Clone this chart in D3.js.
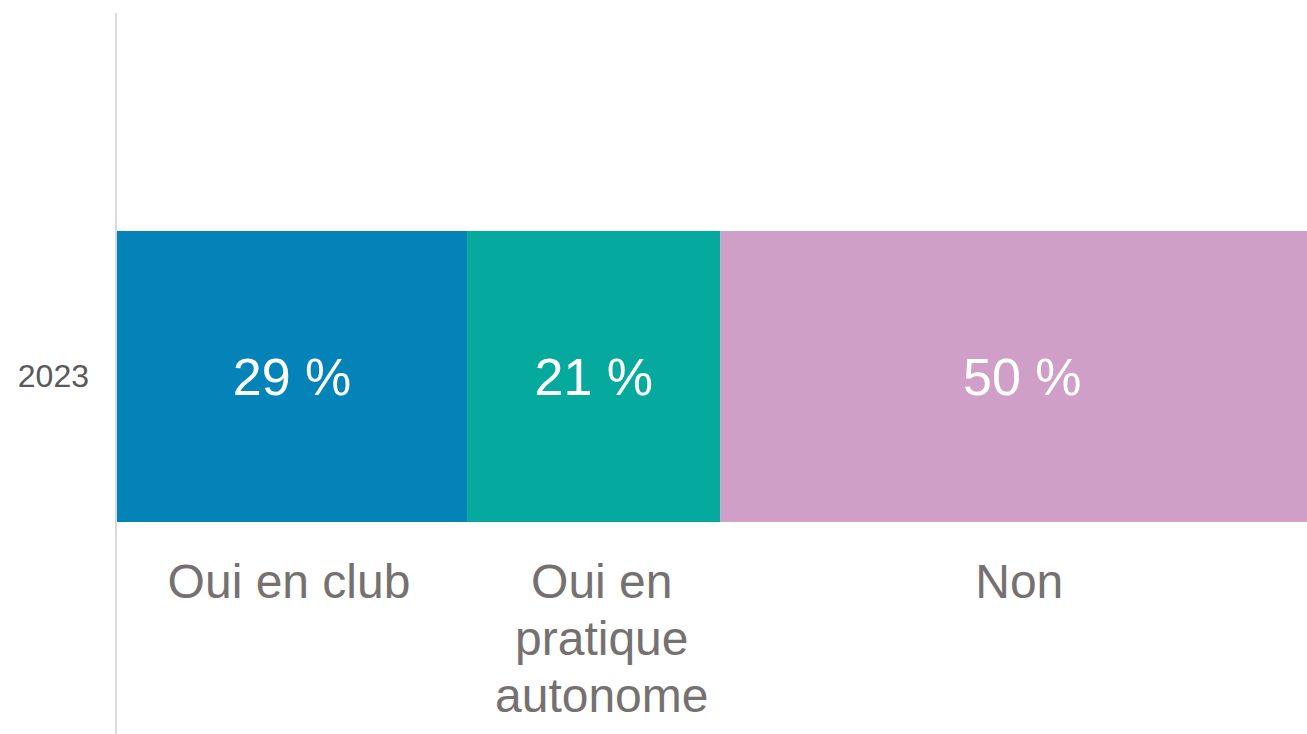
<!DOCTYPE html>
<html>
<head>
<meta charset="utf-8">
<script src="https://cdn.jsdelivr.net/npm/d3@7"></script>
<style>
  html, body { margin: 0; padding: 0; background: #ffffff; }
  svg { display: block; }
  text { font-family: "Liberation Sans", Arial, sans-serif; }
</style>
</head>
<body>
<svg id="chart" width="1307" height="734"></svg>
<script>
// Pratique sportive, répartition 2023
const years = ["2023"];
const categories = ["Oui en club", "Oui en pratique autonome", "Non"];
const categoryLines = [["Oui en club"], ["Oui en", "pratique", "autonome"], ["Non"]];
const values2023 = [29, 21, 50];
const colors = ["#0383b8", "#06a99d", "#cf9fc8"];

const svg = d3.select("#chart");

const x = d3.scaleLinear().domain([0, 100]).range([117, 1324]);
const y = d3.scaleBand().domain(years).range([231, 522]).padding(0);

// stacked offsets
let acc = 0;
const segments = values2023.map((v, i) => {
  const s = { key: categories[i], lines: categoryLines[i], value: v, x0: acc, x1: acc + v, color: colors[i] };
  acc += v;
  return s;
});

const bandY = y("2023");
const bandH = y.bandwidth();
const mid = d => (x(d.x0) + x(d.x1)) / 2;

svg.append("g").selectAll("rect")
  .data(segments)
  .join("rect")
  .attr("x", d => x(d.x0))
  .attr("y", bandY)
  .attr("width", d => x(d.x1) - x(d.x0))
  .attr("height", bandH)
  .attr("fill", d => d.color);

// value labels inside the bar
svg.append("g").selectAll("text")
  .data(segments)
  .join("text")
  .attr("x", mid)
  .attr("y", bandY + bandH / 2 + 18)
  .attr("text-anchor", "middle")
  .attr("font-size", 52)
  .attr("fill", "#ffffff")
  .text(d => d.value + " %");

// category labels under the bar (wrapped labels sit slightly right of centre)
const labelShift = [-3, 8, -3];
const cat = svg.append("g").selectAll("text")
  .data(segments)
  .join("text")
  .attr("text-anchor", "middle")
  .attr("font-size", 48)
  .attr("fill", "#767171");
cat.each(function (d, i) {
  const t = d3.select(this);
  d.lines.forEach((ln, j) => {
    t.append("tspan")
      .attr("x", mid(d) + labelShift[i])
      .attr("y", bandY + bandH + 76 + j * 57)
      .text(ln);
  });
});

// category axis
const yAxis = d3.axisLeft(y).tickSize(0).tickPadding(27);
const gAxis = svg.append("g").attr("transform", "translate(116,0)").call(yAxis);
gAxis.select(".domain").attr("stroke", "#d9d9d9").attr("stroke-width", 2)
  .attr("d", "M0,13V734");
gAxis.selectAll(".tick text")
  .attr("font-size", 32)
  .attr("fill", "#595959")
  .attr("font-family", "Liberation Sans, Arial, sans-serif");
</script>
</body>
</html>
